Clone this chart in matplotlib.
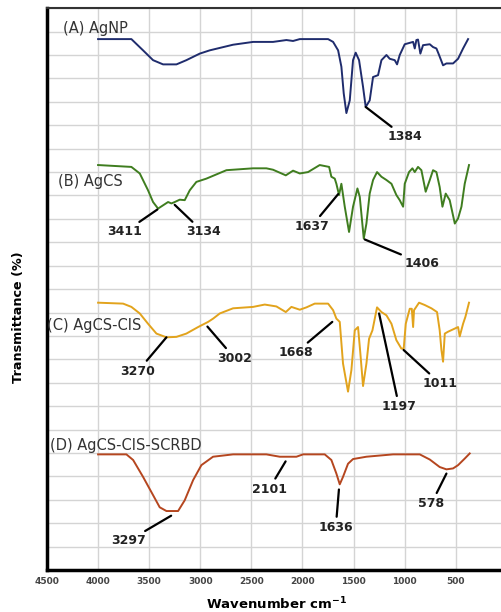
import numpy as np
import matplotlib.pyplot as plt

# Espectros FTIR (número de onda, transmitancia relativa)
wn_a = [4000, 3674, 3560, 3462, 3364, 3233, 3136, 3005, 2907, 2679, 2483, 2288, 2157, 2092,
        2026, 1749, 1700, 1651, 1619, 1596, 1570, 1537, 1505, 1479, 1446, 1407, 1381, 1342,
        1309, 1260, 1227, 1178, 1146, 1097, 1074, 1048, 999, 950, 917, 901, 885, 869, 846,
        820, 754, 722, 689, 663, 624, 591, 526, 477, 428, 379]
t_a = [113.4, 113.4, 111.0, 108.9, 108.0, 108.0, 108.9, 110.3, 111.0, 112.2, 112.8, 112.8,
       113.2, 113.0, 113.4, 113.4, 112.8, 111.0, 107.5, 101.8, 97.6, 100.3, 108.9, 110.5,
       108.9, 103.2, 98.9, 100.3, 105.3, 105.7, 108.9, 110.0, 109.2, 108.9, 108.0, 110.0,
       112.3, 112.6, 112.8, 111.4, 113.2, 113.3, 110.3, 112.1, 112.3, 111.7, 111.4, 110.0,
       107.8, 108.2, 108.2, 109.2, 111.4, 113.4]

wn_b = [4000, 3755, 3674, 3592, 3511, 3462, 3413, 3364, 3315, 3282, 3250, 3201, 3152, 3103,
        3038, 2940, 2744, 2483, 2353, 2288, 2163, 2092, 2026, 1945, 1831, 1739, 1717, 1684,
        1668, 1642, 1619, 1586, 1544, 1505, 1462, 1439, 1400, 1374, 1342, 1309, 1270, 1227,
        1178, 1129, 1081, 1048, 1015, 999, 957, 924, 901, 869, 836, 794, 754, 722, 689, 657,
        630, 598, 559, 509, 477, 444, 412, 370]
t_b = [86.5, 86.2, 86.1, 84.7, 81.1, 78.6, 77.2, 77.9, 78.6, 78.3, 78.6, 79.1, 79.0, 81.1,
       82.9, 83.6, 85.4, 85.8, 85.8, 85.5, 84.3, 85.3, 84.7, 85.0, 86.5, 86.1, 84.0, 83.6,
       82.5, 80.1, 82.5, 77.6, 72.2, 77.6, 81.5, 79.7, 70.8, 74.0, 80.4, 83.3, 85.0, 84.0,
       83.3, 82.5, 80.1, 79.0, 77.6, 82.5, 85.0, 85.8, 85.0, 86.1, 85.4, 80.8, 83.3, 85.4,
       85.0, 81.8, 77.6, 80.4, 79.0, 74.0, 75.1, 77.6, 82.5, 86.5]

wn_c = [4000, 3755, 3674, 3592, 3511, 3429, 3331, 3233, 3136, 3021, 2923, 2874, 2809, 2679,
        2483, 2369, 2255, 2163, 2108, 2026, 1961, 1880, 1749, 1700, 1668, 1635, 1603, 1554,
        1521, 1488, 1456, 1433, 1407, 1374, 1348, 1315, 1270, 1227, 1178, 1129, 1081, 1032,
        1009, 989, 950, 930, 917, 908, 859, 803, 738, 683, 657, 640, 624, 607, 575, 526,
        477, 461, 428, 405, 370]
t_c = [57.1, 56.9, 56.2, 54.8, 52.6, 50.5, 49.7, 49.8, 50.5, 51.9, 53.0, 53.7, 54.8, 55.9,
       56.2, 56.7, 56.3, 55.1, 56.2, 55.6, 56.1, 56.9, 56.9, 55.5, 53.7, 53.0, 44.1, 38.1,
       42.7, 51.2, 51.9, 46.2, 39.3, 44.1, 49.4, 51.2, 56.1, 55.1, 54.4, 52.6, 49.1, 47.3,
       47.3, 52.6, 55.8, 55.8, 51.9, 55.5, 57.1, 56.6, 55.9, 55.1, 51.2, 47.0, 44.5, 50.5,
       50.9, 51.4, 51.9, 49.9, 52.6, 54.1, 57.1]

wn_d = [4000, 3723, 3657, 3560, 3462, 3397, 3331, 3217, 3152, 3070, 2989, 2875, 2679, 2353,
        2222, 2059, 1994, 1782, 1717, 1668, 1635, 1603, 1554, 1505, 1374, 1113, 852, 754,
        657, 591, 526, 477, 412, 363]
t_d = [24.7, 24.7, 23.5, 19.9, 16.0, 13.4, 12.6, 12.6, 14.9, 19.2, 22.4, 24.2, 24.7, 24.7,
       24.2, 24.2, 24.7, 24.7, 23.5, 20.6, 18.3, 19.9, 22.7, 23.7, 24.2, 24.7, 24.7, 23.6,
       22.0, 21.5, 21.7, 22.4, 23.8, 24.9]

names = ['(A) AgNP', '(B) AgCS', '(C) AgCS-CIS', '(D) AgCS-CIS-SCRBD']
name_pos = [(4342, 115.6), (4392, 82.9), (4495, 52.3), (4466, 26.5)]
colors = ['#1f2c6d', '#3f7d1f', '#e2a31c', '#b5461f']

# Etiquetas de picos: texto, punto del pico, posición del texto
peak_labels = ['1384', '3411', '3134', '1637', '1406', '3270', '3002', '1668', '1197',
               '1011', '3297', '2101', '1636', '578']
peak_xy = [(1381, 98.9), (3420, 77.0), (3250, 78.0), (1650, 80.3), (1390, 70.6),
           (3331, 49.7), (2930, 52.0), (1708, 53.0), (1250, 54.8), (1010, 47.0),
           (3285, 11.6), (2165, 23.2), (1643, 17.2), (591, 20.6)]
peak_txt = [(999, 92.5), (3739, 72.2), (2972, 72.2), (1912, 73.4), (826, 65.5),
            (3609, 42.5), (2662, 45.2), (2066, 46.4), (1054, 34.9), (650, 39.8),
            (3706, 6.2), (2327, 17.3), (1674, 9.1), (738, 14.2)]

fig = plt.figure(figsize=(5.02, 6.12), dpi=100)
ax = fig.add_axes([0.0936, 0.0686, 0.916, 0.918])

for wn, t, c in zip([wn_a, wn_b, wn_c, wn_d], [t_a, t_b, t_c, t_d], colors):
    ax.plot(wn, t, color=c, lw=1.4, zorder=3)

for name, (x, y) in zip(names, name_pos):
    ax.text(x, y, name, fontsize=10.5, color='#333333', ha='left', va='center', zorder=4)

for lab, xy, xt in zip(peak_labels, peak_xy, peak_txt):
    ax.annotate(lab, xy=xy, xytext=xt, fontsize=9, fontweight='bold', ha='center',
                va='center', color='#222222', zorder=4,
                arrowprops=dict(arrowstyle='-', lw=1.6, color='black',
                                shrinkA=1, shrinkB=0))

ax.set_xlim(4500, 0)
ax.set_ylim(0, 120)
ax.set_xticks(np.arange(4500, 0, -500))
ax.set_xticklabels([str(v) for v in range(4500, 0, -500)], fontsize=6.5,
                   fontweight='bold', color='#444444')
ax.set_yticks(np.arange(0, 121, 5))
ax.set_yticklabels([])
ax.tick_params(axis='x', length=0, pad=5)
ax.tick_params(axis='y', length=0)
ax.grid(True, color='#d4d4d4', lw=1.0)
ax.set_axisbelow(True)

for s in ['left', 'bottom']:
    ax.spines[s].set_linewidth(2.5)
    ax.spines[s].set_color('black')
ax.spines['top'].set_linewidth(1.5)
ax.spines['top'].set_color('#333333')
ax.spines['right'].set_visible(False)

ax.set_xlabel('Wavenumber cm$^{\\mathbf{-1}}$', fontsize=9.5, fontweight='bold', va='center')
ax.xaxis.set_label_coords(0.5, -0.0605)
ax.set_ylabel('Transmittance (%)', fontsize=9.2, fontweight='bold', va='center')
ax.yaxis.set_label_coords(-0.061, 0.45)

plt.savefig('out.png', dpi=100)
